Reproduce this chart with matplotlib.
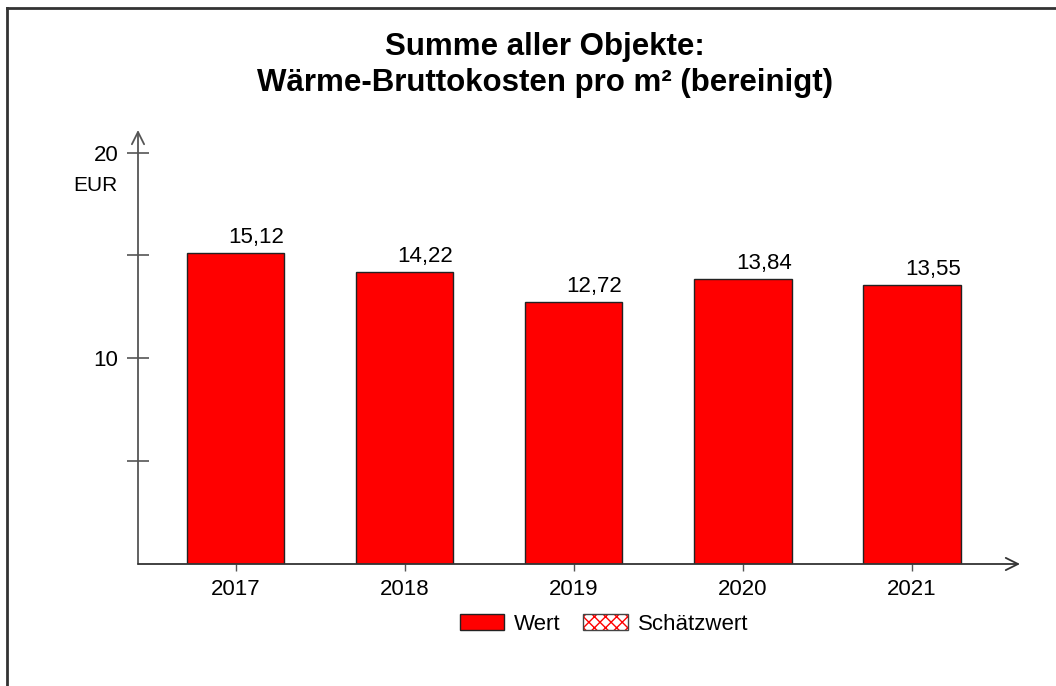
import matplotlib
matplotlib.use("Agg")
import matplotlib.pyplot as plt
from matplotlib.patches import Patch
from matplotlib.lines import Line2D

plt.rcParams['font.family'] = ['Liberation Sans', 'DejaVu Sans']

years = ["2017", "2018", "2019", "2020", "2021"]
values = [15.12, 14.22, 12.72, 13.84, 13.55]
labels = ["15,12", "14,22", "12,72", "13,84", "13,55"]
yticks = [5, 10, 15, 20]
yticklabels = ["", "10", "", "20"]

W, H = 1056, 686
fig = plt.figure(figsize=(W / 100, H / 100), dpi=100)

# outer frame (top and left visible)
fig.add_artist(Line2D([7 / W, 1.0], [1 - 8 / H, 1 - 8 / H], transform=fig.transFigure, color='#333333', lw=2))
fig.add_artist(Line2D([7 / W, 7 / W], [1 - 8 / H, 0], transform=fig.transFigure, color='#333333', lw=2))

ax = fig.add_axes([138 / W, (H - 564) / H, (1020 - 138) / W, (564 - 130) / H])
x = list(range(len(years)))
bw = 0.577
ax.bar(x, values, width=bw, color='#ff0000', edgecolor='#222222', linewidth=1, zorder=3)
ax.set_xlim(-0.577, 4.64)
ax.set_ylim(0, 21.1)

for s in ax.spines.values():
    s.set_visible(False)

# axes with arrows
ax.annotate('', xy=(0, 1), xytext=(0, 0), xycoords='axes fraction',
            arrowprops=dict(arrowstyle='->', color='#555555', lw=1.3, mutation_scale=22, shrinkA=0, shrinkB=0))
ax.annotate('', xy=(1, 0), xytext=(0, 0), xycoords='axes fraction',
            arrowprops=dict(arrowstyle='->', color='#333333', lw=1.3, mutation_scale=22, shrinkA=0, shrinkB=0))

ax.set_yticks(yticks)
ax.set_yticklabels(yticklabels, fontsize=16)
ax.tick_params(axis='y', direction='inout', length=16, width=1.2, color='#555555', pad=6)
ax.set_xticks(x)
ax.set_xticklabels(years, fontsize=16)
ax.tick_params(axis='x', direction='out', length=5, width=1, color='#555555', pad=6)

ax.text(-0.577 - 0.12, 18.4, "EUR", fontsize=15, ha='right', va='center')

for xi, v, lab in zip(x, values, labels):
    ax.annotate(lab, xy=(xi + bw / 2, v), xytext=(0, 5), textcoords='offset pixels',
                ha='right', va='bottom', fontsize=16)

fig.text(545 / W, 1 - 65 / H, "Summe aller Objekte:\nWärme-Bruttokosten pro m² (bereinigt)",
         ha='center', va='center', fontsize=22.5, fontweight='bold', linespacing=1.3)

h1 = Patch(facecolor='#ff0000', edgecolor='#222222', linewidth=1)
h2a = Patch(facecolor='white', edgecolor='#ff0000', hatch='xxx', linewidth=0)
h2b = Patch(facecolor='none', edgecolor='#444444', linewidth=1)
fig.legend([h1, (h2a, h2b)], ["Wert", "Schätzwert"], loc='center',
           bbox_to_anchor=(604 / W, 1 - 624 / H), ncol=2, frameon=False, fontsize=16,
           handlelength=2.0, handleheight=0.75, handletextpad=0.45, columnspacing=1.0)

fig.savefig("out.png", dpi=100)
